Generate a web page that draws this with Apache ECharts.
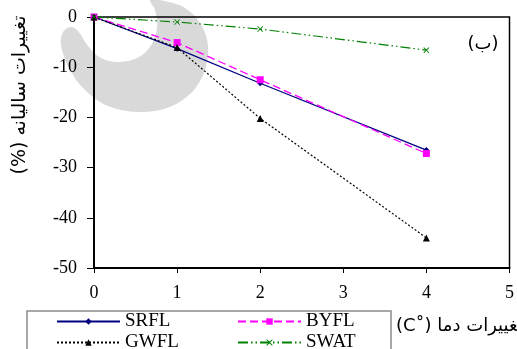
<!DOCTYPE html>
<html><head><meta charset="utf-8">
<script src="https://cdn.jsdelivr.net/npm/echarts@6/dist/echarts.min.js"></script>
<style>html,body{margin:0;padding:0;background:#fff}#c{width:517px;height:349px}</style>
</head><body><div id="c"></div>
<script>
var temps = [0, 1, 2, 4];
var srfl = [0, -6.3, -13.2, -26.5];
var byfl = [0, -5.1, -12.5, -27.2];
var gwfl = [0, -6.1, -20.2, -44.0];
var swat = [0, -1.0, -2.4, -6.6];
var xTicks = [0, 1, 2, 3, 4, 5];
var yTicks = [-50, -40, -30, -20, -10, 0];
var names = ['SRFL', 'BYFL', 'GWFL', 'SWAT'];
var yTitle = '\u202Bتغییرات سالیانه (%)\u202C';
var xTitle = '\u202Bتغییرات دما (˚C)\u202C';
var panel = '(ب)';

function pairs(v){ return temps.map(function(t,i){ return [t, v[i]]; }); }
var crossSym = 'path://M0,1L1,0L5,4L9,0L10,1L6,5L10,9L9,10L5,6L1,10L0,9L4,5Z';
var serif = 'Liberation Serif';
var markPts = [[160,0],[185,8],[203,28],[208,55],[197,86],[172,106],[140,112],[108,106],[84,89],[69,68],[61,45],[63,32],[71,27],[78,31],[88,46],[101,58],[119,62],[139,57],[152,44],[157,27],[155,10],[150,0]];
var legendText = {fontFamily: serif, fontSize: 19, color: '#000', lineHeight: 14};
var chart = echarts.init(document.getElementById('c'), null, {renderer:'canvas'});
chart.setOption({
  animation: false,
  grid: {left: 94, right: 5, top: 17, bottom: 81, show: true, borderColor: '#000', borderWidth: 1.5},
  xAxis: {type: 'value', min: xTicks[0], max: xTicks[xTicks.length-1], interval: 1,
    axisLine: {show: true, onZero: false, lineStyle: {color: '#000', width: 2}},
    axisTick: {show: true, inside: false, length: 5, lineStyle: {color: '#000', width: 1}},
    axisLabel: {margin: 16, fontFamily: serif, fontSize: 18, color: '#000'},
    splitLine: {show: false}},
  yAxis: {type: 'value', min: yTicks[0], max: yTicks[yTicks.length-1], interval: 10,
    axisLine: {show: true, onZero: false, lineStyle: {color: '#000', width: 2}},
    axisTick: {show: true, inside: false, length: 7, lineStyle: {color: '#000', width: 1}},
    axisLabel: {margin: 17, fontFamily: serif, fontSize: 18, color: '#000'},
    splitLine: {show: false}},
  legend: [
    {data: [names[0], names[2]], orient: 'vertical', left: 56, top: 312, height: 60, padding: 0,
     itemWidth: 63, itemHeight: 8, itemGap: 2, textStyle: legendText},
    {data: [names[1], names[3]], orient: 'vertical', left: 237, top: 312, height: 60, padding: 0,
     itemWidth: 63, itemHeight: 8, itemGap: 2, textStyle: legendText}
  ],
  graphic: [
    {type: 'polygon', z: -10, silent: true,
     shape: {points: markPts, smooth: 0.35},
     style: {fill: '#d9d9d9'}},
    {type: 'rect', z: -5, silent: true, shape: {x: 27, y: 311, width: 364, height: 60},
     style: {fill: '#fff', stroke: '#8c8c8c', lineWidth: 1.5}},
    {type: 'text', x: 20, y: 95, rotation: Math.PI/2, silent: true,
     style: {text: yTitle, font: '19px "DejaVu Sans"', fill: '#000', textAlign: 'center', textVerticalAlign: 'middle'}},
    {type: 'text', x: 396, y: 326, silent: true,
     style: {text: xTitle, font: '18px "DejaVu Sans"', fill: '#000', textAlign: 'left', textVerticalAlign: 'middle'}},
    {type: 'text', x: 483, y: 44, silent: true,
     style: {text: panel, font: '18px "DejaVu Sans"', fill: '#000', textAlign: 'center', textVerticalAlign: 'middle'}}
  ],
  series: [
    {name: names[0], type: 'line', data: pairs(srfl), symbol: 'diamond', symbolSize: 6,
     lineStyle: {color: '#000080', width: 1.3, type: 'solid'}, itemStyle: {color: '#000080'}},
    {name: names[1], type: 'line', data: pairs(byfl), symbol: 'rect', symbolSize: 7,
     lineStyle: {color: '#ff00ff', width: 1.3, type: [8,4]}, itemStyle: {color: '#ff00ff'}},
    {name: names[2], type: 'line', data: pairs(gwfl), symbol: 'triangle', symbolSize: 7,
     lineStyle: {color: '#000', width: 1.2, type: [2,2]}, itemStyle: {color: '#000'}},
    {name: names[3], type: 'line', data: pairs(swat), symbol: crossSym, symbolSize: 6,
     lineStyle: {color: '#008000', width: 1.2, type: [10,3,1.5,3,1.5,3]}, itemStyle: {color: '#008000'}}
  ]
});
</script></body></html>
